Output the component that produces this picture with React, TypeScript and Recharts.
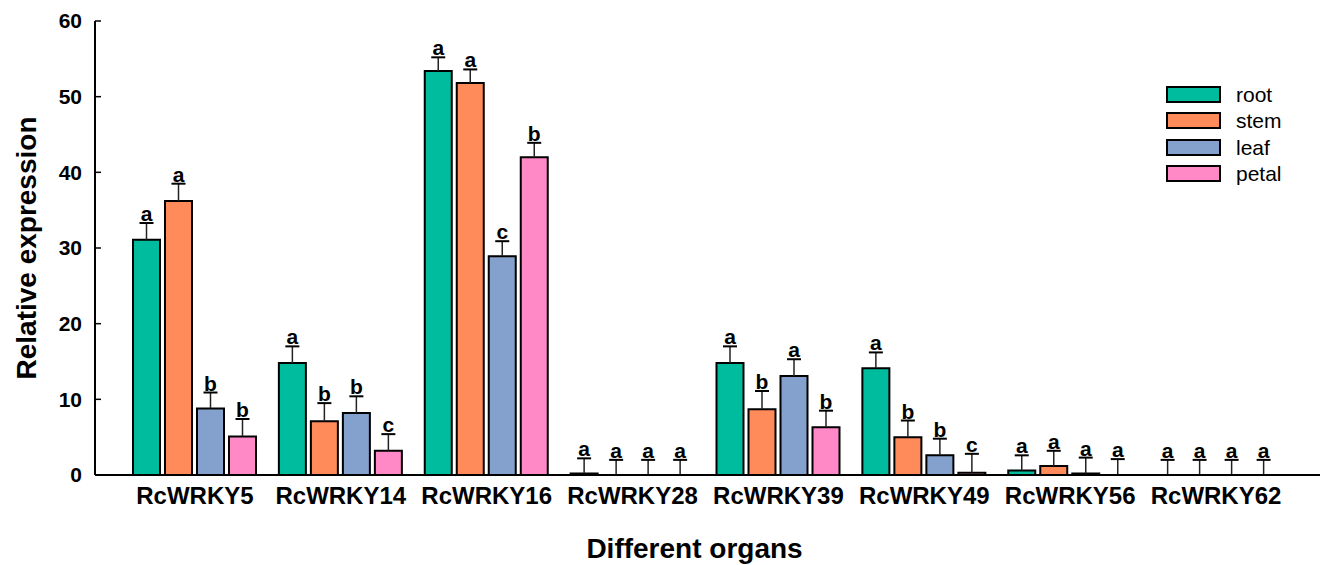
import { Bar, BarChart, LabelList, Legend, XAxis, YAxis } from "recharts";

const categories = ["RcWRKY5", "RcWRKY14", "RcWRKY16", "RcWRKY28", "RcWRKY39", "RcWRKY49", "RcWRKY56", "RcWRKY62"];

const root = [31.1, 14.8, 53.4, 0.2, 14.8, 14.1, 0.6, 0];
const rootErr = [2.2, 2.2, 1.8, 2.0, 2.2, 2.1, 2.0, 2.0];
const rootSig = ["a", "a", "a", "a", "a", "a", "a", "a"];

const stem = [36.2, 7.1, 51.8, 0, 8.7, 5.0, 1.2, 0];
const stemErr = [2.3, 2.4, 1.8, 2.0, 2.4, 2.2, 2.0, 2.0];
const stemSig = ["a", "b", "a", "a", "b", "b", "a", "a"];

const leaf = [8.8, 8.2, 28.9, 0, 13.1, 2.6, 0.2, 0];
const leafErr = [2.1, 2.2, 2.0, 2.0, 2.2, 2.2, 2.1, 2.0];
const leafSig = ["b", "b", "c", "a", "a", "b", "a", "a"];

const petal = [5.1, 3.2, 42.0, 0, 6.3, 0.3, 0, 0];
const petalErr = [2.3, 2.2, 1.9, 2.0, 2.2, 2.5, 2.1, 2.0];
const petalSig = ["b", "c", "b", "a", "b", "c", "a", "a"];

const yTicks = [0, 10, 20, 30, 40, 50, 60];

const organs = ["root", "stem", "leaf", "petal"];
const COLORS = ["#00BC9F", "#FF8B5A", "#84A0CC", "#FF88C6"];

const data = categories.map((name, i) => ({
  name,
  root: root[i],
  rootErr: rootErr[i],
  rootSig: rootSig[i],
  stem: stem[i],
  stemErr: stemErr[i],
  stemSig: stemSig[i],
  leaf: leaf[i],
  leafErr: leafErr[i],
  leafSig: leafSig[i],
  petal: petal[i],
  petalErr: petalErr[i],
  petalSig: petalSig[i],
}));

const FONT = "'Liberation Sans', Arial, sans-serif";

// upward error whisker: stem from bar top plus a cap, drawn as a stacked transparent bar
const ErrorShape = (props: any) => {
  const { x, y, width, height } = props;
  if (!height) return null;
  const cx = x + width / 2;
  return (
    <g>
      <line x1={cx} y1={y + height} x2={cx} y2={y} stroke="#222" strokeWidth={1.5} />
      <line x1={cx - 7} y1={y} x2={cx + 7} y2={y} stroke="#000" strokeWidth={2} />
    </g>
  );
};

const LegendBox = () => (
  <div style={{ fontFamily: FONT, fontSize: 21, color: "#000" }}>
    {organs.map((organ, idx) => (
      <div key={organ} style={{ display: "flex", alignItems: "center", height: 26.5 }}>
        <div
          style={{
            width: 51,
            height: 13,
            border: "2px solid #000",
            background: COLORS[idx],
            marginRight: 15,
          }}
        />
        <span style={{ lineHeight: "21px" }}>{organ}</span>
      </div>
    ))}
  </div>
);

export default function App() {
  return (
    <div style={{ position: "absolute", left: 0, top: 0, background: "#fff" }}>
      <BarChart
        width={1320}
        height={565}
        data={data}
        margin={{ top: 21, right: 0, bottom: 0, left: 0 }}
        barSize={27}
        barGap={5}
      >
        <XAxis
          dataKey="name"
          height={90}
          padding={{ left: 27, right: 31 }}
          tickLine={false}
          axisLine={{ stroke: "#000", strokeWidth: 2 }}
          tickMargin={6}
          tick={{ fill: "#000", fontSize: 24, fontWeight: 700, fontFamily: FONT }}
          label={{
            value: "Different organs",
            position: "insideBottom",
            offset: 7,
            dx: -13,
            style: { fill: "#000", fontSize: 28, fontWeight: 700, fontFamily: FONT },
          }}
        />
        <YAxis
          width={95}
          domain={[0, 60]}
          ticks={yTicks}
          interval={0}
          tickSize={-6}
          tickMargin={19}
          axisLine={{ stroke: "#000", strokeWidth: 2 }}
          tickLine={{ stroke: "#000", strokeWidth: 1.5 }}
          tick={{ fill: "#000", fontSize: 21, fontWeight: 700, fontFamily: FONT }}
          label={{
            value: "Relative expression",
            angle: -90,
            position: "insideLeft",
            offset: 26,
            style: { textAnchor: "middle", fill: "#000", fontSize: 28, fontWeight: 700, fontFamily: FONT },
          }}
        />
        <Legend
          layout="vertical"
          align="center"
          verticalAlign="middle"
          content={<LegendBox />}
          wrapperStyle={{ top: 81, left: 1166, width: 150, height: 110 }}
        />
        {organs.map((organ, idx) => [
          <Bar
            key={organ}
            dataKey={organ}
            stackId={organ}
            fill={COLORS[idx]}
            stroke="#000"
            strokeWidth={2}
            isAnimationActive={false}
          />,
          <Bar
            key={organ + "Err"}
            dataKey={organ + "Err"}
            stackId={organ}
            fill="transparent"
            shape={<ErrorShape />}
            legendType="none"
            isAnimationActive={false}
          >
            <LabelList
              dataKey={organ + "Sig"}
              position="top"
              offset={2}
              style={{ fill: "#000", fontSize: 21, fontWeight: 700, fontFamily: FONT }}
            />
          </Bar>,
        ])}
      </BarChart>
    </div>
  );
}
